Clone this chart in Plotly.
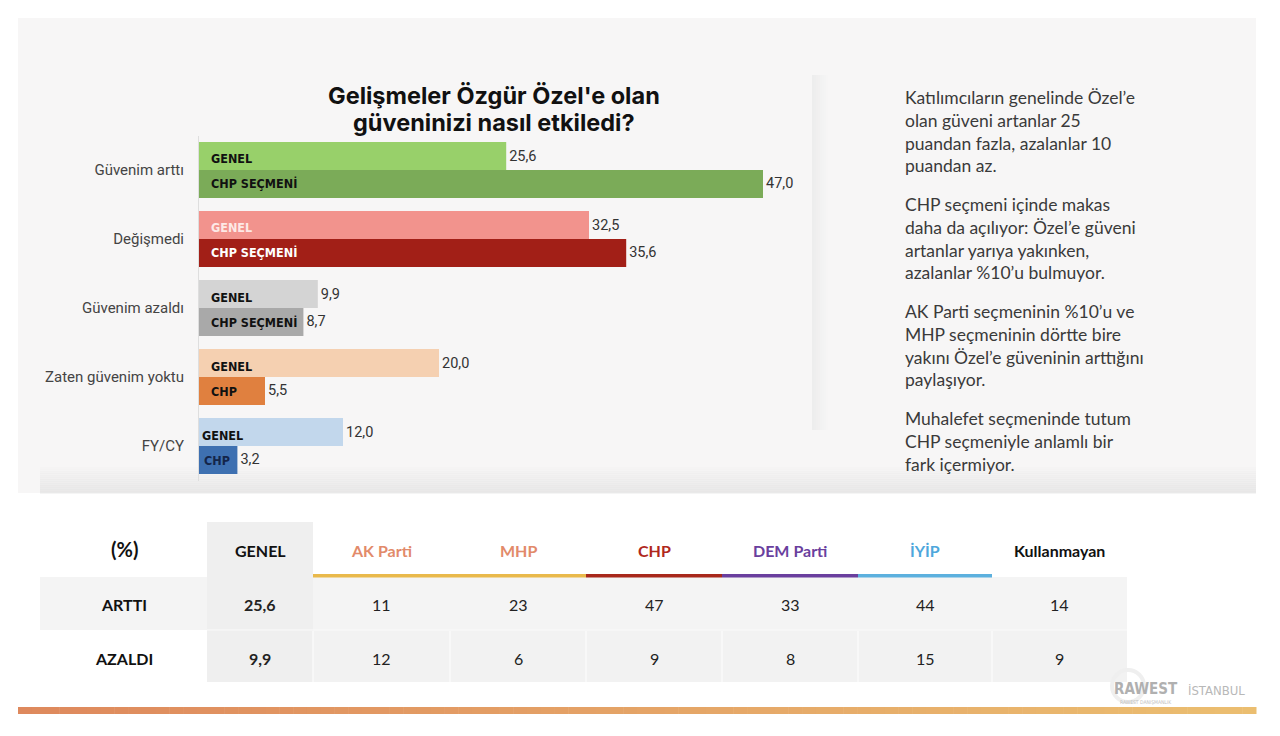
import plotly.graph_objects as go

# ---------------- DATA ----------------
categories = ["Güvenim arttı", "Değişmedi", "Güvenim azaldı", "Zaten güvenim yoktu", "FY/CY"]
genel_values = [25.6, 32.5, 9.9, 20.0, 12.0]
chp_values = [47.0, 35.6, 8.7, 5.5, 3.2]
genel_labels = ["GENEL", "GENEL", "GENEL", "GENEL", "GENEL"]
chp_labels = ["CHP SEÇMENİ", "CHP SEÇMENİ", "CHP SEÇMENİ", "CHP", "CHP"]

title_lines = ["Gelişmeler Özgür Özel'e olan", "güveninizi nasıl etkiledi?"]

paragraphs = [
    "Katılımcıların genelinde Özel’e<br>olan güveni artanlar 25<br>puandan fazla, azalanlar 10<br>puandan az.",
    "CHP seçmeni içinde makas<br>daha da açılıyor: Özel’e güveni<br>artanlar yarıya yakınken,<br>azalanlar %10’u bulmuyor.",
    "AK Parti seçmeninin %10’u ve<br>MHP seçmeninin dörtte bire<br>yakını Özel’e güveninin arttığını<br>paylaşıyor.",
    "Muhalefet seçmeninde tutum<br>CHP seçmeniyle anlamlı bir<br>fark içermiyor.",
]

table_corner = "(%)"
table_columns = ["GENEL", "AK Parti", "MHP", "CHP", "DEM Parti", "İYİP", "Kullanmayan"]
table_rows = ["ARTTI", "AZALDI"]
artti_values = [25.6, 11, 23, 47, 33, 44, 14]
azaldi_values = [9.9, 12, 6, 9, 8, 15, 9]

# ---------------- STYLE ----------------
W, H = 1280, 736
genel_colors = ["#98d06a", "#f2938d", "#d4d4d4", "#f5d0b1", "#c2d7ec"]
chp_colors = ["#7bab58", "#a21f17", "#a9a9a9", "#e0803f", "#3e70b1"]
genel_label_colors = ["#111111", "#fde9e6", "#111111", "#111111", "#111111"]
chp_label_colors = ["#111111", "#ffffff", "#111111", "#111111", "#14254a"]
label_xshift_genel = [10, 10, 10, 10, 1]
label_xshift_chp = [10, 10, 10, 10, 3]
header_colors = ["#111111", "#e28a6a", "#e28a6a", "#b0281c", "#6a3f9e", "#4ea7dc", "#111111"]
underline_colors = [None, "#e9b94b", "#e9b94b", "#a8281b", "#6a3f9e", "#5cb0de", None]

COND = "Liberation Sans Narrow, DejaVu Sans Condensed, Roboto, sans-serif"
BODY = "Lato, Inter, sans-serif"
UI = "Roboto, Inter, sans-serif"


def px(x):
    return x / W


def py(y):
    return 1 - y / H


def fmt1(v):
    return f"{v:.1f}".replace(".", ",")


fig = go.Figure()

fig.add_trace(go.Bar(
    y=categories, x=genel_values, orientation="h", name="GENEL",
    marker=dict(color=genel_colors, line=dict(width=0)),
    text=[fmt1(v) for v in genel_values], textposition="outside",
    textfont=dict(family=UI, size=14.5, color="#333333"),
    cliponaxis=False, constraintext="none", showlegend=False, hoverinfo="skip",
))
fig.add_trace(go.Bar(
    y=categories, x=chp_values, orientation="h", name="CHP SEÇMENİ",
    marker=dict(color=chp_colors, line=dict(width=0)),
    text=[fmt1(v) for v in chp_values], textposition="outside",
    textfont=dict(family=UI, size=14.5, color="#333333"),
    cliponaxis=False, constraintext="none", showlegend=False, hoverinfo="skip",
))

shapes = []
annotations = []


def note(text, x, y, size, color, family=BODY, xanchor="center", yanchor="middle", align="center"):
    annotations.append(dict(text=text, xref="paper", yref="paper", x=px(x), y=py(y), xanchor=xanchor,
                            yanchor=yanchor, align=align, showarrow=False,
                            font=dict(family=family, size=size, color=color)))


# panel background
shapes.append(dict(type="rect", xref="paper", yref="paper", x0=px(18), x1=px(1256), y0=py(493), y1=py(18),
                   fillcolor="#f7f6f6", line=dict(width=0), layer="below"))


def hgrad(x0, x1, y0, y1, c0, c1, n):
    def hx(c):
        return tuple(int(c[i:i + 2], 16) for i in (1, 3, 5))
    a, b = hx(c0), hx(c1)
    for i in range(n):
        t = i / max(n - 1, 1)
        col = tuple(round(a[k] + (b[k] - a[k]) * t) for k in range(3))
        xa = x0 + (x1 - x0) * i / n
        xb = x0 + (x1 - x0) * (i + 1) / n + 0.5
        shapes.append(dict(type="rect", xref="paper", yref="paper", x0=px(xa), x1=px(xb), y0=py(y1), y1=py(y0),
                           fillcolor=f"rgb({col[0]},{col[1]},{col[2]})", line=dict(width=0), layer="below"))


def vgrad(x0, x1, y0, y1, col, op0, op1, n):
    for i in range(n):
        t = i / max(n - 1, 1)
        op = op0 + (op1 - op0) * t
        ya = y0 + (y1 - y0) * i / n
        yb = y0 + (y1 - y0) * (i + 1) / n + 0.5
        shapes.append(dict(type="rect", xref="paper", yref="paper", x0=px(x0), x1=px(x1), y0=py(yb), y1=py(ya),
                           fillcolor=f"rgba({col},{op:.3f})", line=dict(width=0), layer="below"))


# vertical shadow right of chart card
hgrad(812, 830, 75, 430, "#ededed", "#f7f6f6", 9)
# bottom shadow of panel
vgrad(40, 1256, 465, 493, "228,228,228", 0.0, 0.75, 14)

# title
note("<b>" + title_lines[0] + "</b>", 494, 95, 23.5, "#111111", family="Inter, Lato, sans-serif")
note("<b>" + title_lines[1] + "</b>", 494, 122, 23.5, "#111111", family="Inter, Lato, sans-serif")

# in-bar labels
for i, cat in enumerate(categories):
    annotations.append(dict(text="<b>" + genel_labels[i] + "</b>", x=0, y=cat, xref="x", yref="y",
                            xanchor="left", yanchor="middle", xshift=label_xshift_genel[i], yshift=11,
                            showarrow=False, font=dict(family=COND, size=12.5, color=genel_label_colors[i])))
    annotations.append(dict(text="<b>" + chp_labels[i] + "</b>", x=0, y=cat, xref="x", yref="y",
                            xanchor="left", yanchor="middle", xshift=label_xshift_chp[i], yshift=-14,
                            showarrow=False, font=dict(family=COND, size=12.5, color=chp_label_colors[i])))

# right paragraphs
para_centers = [131, 239, 345.5, 441]
for txt, cy in zip(paragraphs, para_centers):
    note(txt, 903, cy, 17.5, "#3a3a3a", xanchor="left", align="left")

# ---------------- TABLE ----------------
col_edges = [207, 313, 450, 586, 722, 858, 992, 1127]
col_centers = [(col_edges[i] + col_edges[i + 1]) / 2 for i in range(len(table_columns))]
header_y, row_ys = 550, [604, 658]

# ARTTI row bg
shapes.append(dict(type="rect", xref="paper", yref="paper", x0=px(40), x1=px(1127), y0=py(630), y1=py(577),
                   fillcolor="#f4f4f4", line=dict(width=0), layer="below"))
# AZALDI row bg
shapes.append(dict(type="rect", xref="paper", yref="paper", x0=px(313), x1=px(1127), y0=py(682), y1=py(630),
                   fillcolor="#f2f2f2", line=dict(width=0), layer="below"))
# GENEL column bg
shapes.append(dict(type="rect", xref="paper", yref="paper", x0=px(207), x1=px(313), y0=py(682), y1=py(522),
                   fillcolor="#efefef", line=dict(width=0), layer="below"))
# separators
for xe in col_edges[1:-1]:
    shapes.append(dict(type="line", xref="paper", yref="paper", x0=px(xe), x1=px(xe), y0=py(682), y1=py(631),
                       line=dict(color="#fafafa", width=1.5), layer="below"))
shapes.append(dict(type="line", xref="paper", yref="paper", x0=px(207), x1=px(1127), y0=py(630), y1=py(630),
                   line=dict(color="#fafafa", width=1), layer="below"))
# underlines
for i, c in enumerate(underline_colors):
    if c:
        shapes.append(dict(type="rect", xref="paper", yref="paper", x0=px(col_edges[i]), x1=px(col_edges[i + 1]),
                           y0=py(577.5), y1=py(574), fillcolor=c, line=dict(width=0)))

note("<b>" + table_corner + "</b>", 124, header_y - 1, 20, "#111111")
for i, name in enumerate(table_columns):
    note("<b>" + name + "</b>", col_centers[i], header_y, 16, header_colors[i])
for r, (rname, vals) in enumerate(zip(table_rows, [artti_values, azaldi_values])):
    note("<b>" + rname + "</b>", 124, row_ys[r], 16, "#111111")
    for i, v in enumerate(vals):
        t = "<b>" + fmt1(v) + "</b>" if i == 0 else f"{v:.0f}"
        note(t, col_centers[i], row_ys[r], 16, "#222222")

# footer gradient bar
hgrad(18, 1256, 707, 714, "#de895d", "#ebbe70", 90)

# logos
shapes.append(dict(type="circle", xref="paper", yref="paper", x0=px(1112), x1=px(1144), y0=py(702), y1=py(670),
                   line=dict(color="#efefef", width=4), layer="below"))
note("<b>RAWEST</b>", 1146, 689, 15, "#b0b0b0", family=COND)
note("RAWEST DANIŞMANLIK", 1146, 702, 5, "#c0c0c0", family=COND)
note("İSTANBUL", 1216, 690, 13, "#b8b8b8", family=COND)

fig.update_layout(
    width=W, height=H, margin=dict(l=0, r=0, t=0, b=0),
    paper_bgcolor="white", plot_bgcolor="rgba(0,0,0,0)",
    barmode="group", bargap=0.19, bargroupgap=0,
    xaxis=dict(domain=[px(199), px(799)], range=[0, 50], visible=False, fixedrange=True),
    yaxis=dict(domain=[py(480.5), py(135.5)], autorange="reversed", showline=True, linecolor="#dedede",
               linewidth=1, ticks="", showgrid=False, zeroline=False, ticklabelstandoff=11,
               tickfont=dict(family=UI, size=15, color="#444444")),
    shapes=shapes, annotations=annotations,
)

fig.write_html("out.html")
